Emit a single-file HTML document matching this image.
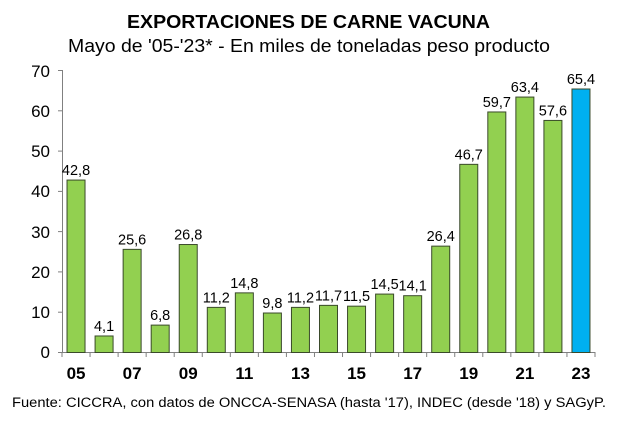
<!DOCTYPE html><html><head><style>body{margin:0;background:#fff}</style></head><body>
<svg width="618" height="425" xmlns="http://www.w3.org/2000/svg" font-family="Liberation Sans, Arial, sans-serif">
<rect width="618" height="425" fill="#fff"/>
<text x="127" y="28" font-size="18" font-weight="bold" textLength="363" lengthAdjust="spacingAndGlyphs">EXPORTACIONES DE CARNE VACUNA</text>
<text x="68" y="52" font-size="18" textLength="482" lengthAdjust="spacingAndGlyphs">Mayo de '05-'23* - En miles de toneladas peso producto</text>
<g font-size="17" text-anchor="end">
<text x="50" y="77">70</text><text x="50" y="117">60</text><text x="50" y="157">50</text><text x="50" y="197">40</text><text x="50" y="238">30</text><text x="50" y="278">20</text><text x="50" y="318">10</text><text x="50" y="358">0</text>
</g>
<g stroke="#808080" stroke-width="1">
<line x1="62.5" y1="70" x2="62.5" y2="353"/>
<line x1="58" y1="70.5" x2="62" y2="70.5"/><line x1="58" y1="110.8" x2="62" y2="110.8"/><line x1="58" y1="151.1" x2="62" y2="151.1"/><line x1="58" y1="191.4" x2="62" y2="191.4"/><line x1="58" y1="231.6" x2="62" y2="231.6"/><line x1="58" y1="271.9" x2="62" y2="271.9"/><line x1="58" y1="312.2" x2="62" y2="312.2"/>
<line x1="58" y1="352.5" x2="595" y2="352.5"/>
</g>
<g id="bars"></g>
<text x="12" y="407" font-size="13.5" textLength="594" lengthAdjust="spacingAndGlyphs">Fuente: CICCRA, con datos de ONCCA-SENASA (hasta '17), INDEC (desde '18) y SAGyP.</text>
</svg>
<script>
var v=[42.8,4.1,25.6,6.8,26.8,11.2,14.8,9.8,11.2,11.7,11.5,14.5,14.1,26.4,46.7,59.7,63.4,57.6,65.4];
var g=document.getElementById('bars'),s='',cw=(595-62)/19;
for(var i=0;i<19;i++){var c=62+cw*(i+0.5),h=v[i]*4.029,y=352.5-h;
s+='<rect x="'+(c-9)+'" y="'+y+'" width="18" height="'+h+'" fill="'+(i==18?'#00b0f0':'#92d050')+'" stroke="#3a4a2a" stroke-width="1"/>';
s+='<text x="'+c+'" y="'+(y-5)+'" text-anchor="middle" font-size="14.5">'+String(v[i]).replace('.',',')+'</text>';
var tx=62+cw*i;s+='<line x1="'+tx+'" y1="352" x2="'+tx+'" y2="357" stroke="#808080"/>';
if(i%2==0)s+='<text x="'+c+'" y="379" text-anchor="middle" font-size="17" font-weight="bold">'+String(5+i).padStart(2,'0')+'</text>';}
s+='<line x1="595" y1="352" x2="595" y2="357" stroke="#808080"/>';
g.innerHTML=s;
</script>
</body></html>
